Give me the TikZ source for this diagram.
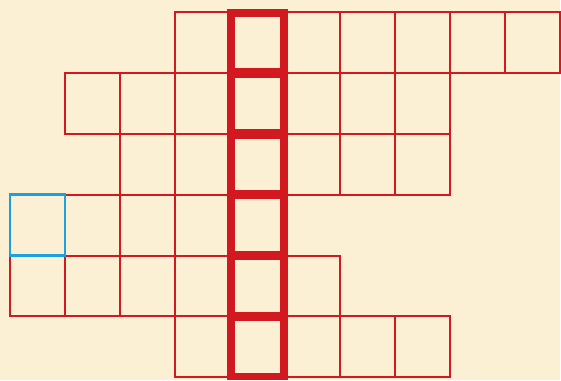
\documentclass[tikz,border=0pt]{standalone}
\definecolor{paper}{HTML}{FBF0D4}
\definecolor{gridred}{HTML}{D2191F}
\definecolor{startblue}{HTML}{1BA0E0}
\tikzset{
  cell/.style={draw=gridred, line width=2pt},
  keycell/.style={draw=gridred, line width=7.5pt},
  startcell/.style={draw=startblue, line width=2.5pt}
}
\begin{document}
\begin{tikzpicture}[x=1pt,y=-1pt]
  \fill[paper] (0,0) rectangle (561,381);
  % rows: row / first column / last column
  \foreach \r/\a/\b in {0/3/9,1/1/7,2/2/7,3/0/4,4/0/5,5/3/7}
    \foreach \c in {\a,...,\b}
      \draw[cell] ({10+55.1*\c},{12+61*\r}) rectangle +(55.1,61);
  % the answer column
  \foreach \r in {0,...,5}
    \draw[keycell] ({10+55.1*4+1},{12+61*\r+1}) rectangle +(53.1,59);
  \draw[startcell] (10,195) rectangle +(55.1,61);
\end{tikzpicture}
\end{document}
